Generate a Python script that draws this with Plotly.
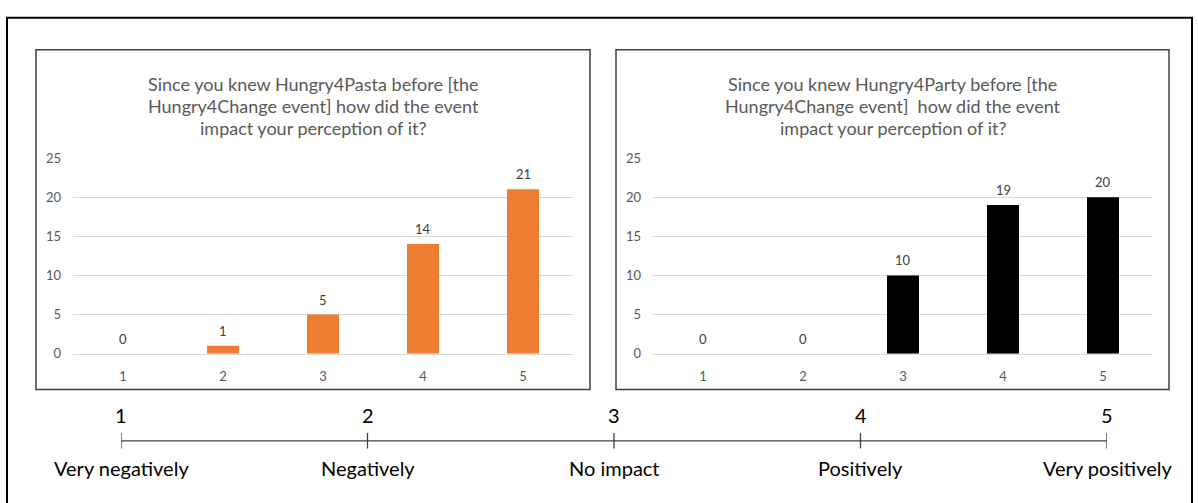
import plotly.graph_objects as go

W, H = 1198, 503

# survey answers (1 = very negatively ... 5 = very positively)
ratings = [1, 2, 3, 4, 5]
pasta_counts = [0, 1, 5, 14, 21]
party_counts = [0, 0, 10, 19, 20]

pasta_title = ["Since you knew Hungry4Pasta before [the",
               "Hungry4Change event] how did the event",
               "impact your perception of it?"]
party_title = ["Since you knew Hungry4Party before [the",
               "Hungry4Change event]  how did the event",
               "impact your perception of it?"]

scale_points = [1, 2, 3, 4, 5]
scale_labels = ["Very negatively", "Negatively", "No impact", "Positively", "Very positively"]

y_ticks = [0, 5, 10, 15, 20, 25]

FONT = "Lato, Calibri, sans-serif"
ORANGE = "#ED7D31"
GRID = "#D9D9D9"
AXIS_TXT = "#595959"


def px_x(p):
    return p / W


def px_y(p):
    return 1 - p / H


fig = go.Figure()

fig.add_trace(go.Bar(x=ratings, y=pasta_counts, width=0.32,
                     marker=dict(color=ORANGE, line=dict(width=0)),
                     xaxis="x", yaxis="y", hoverinfo="skip"))
fig.add_trace(go.Bar(x=ratings, y=party_counts, width=0.32,
                     marker=dict(color="#000000", line=dict(width=0)),
                     xaxis="x2", yaxis="y2", hoverinfo="skip"))

# rating scale across the bottom
fig.add_trace(go.Scatter(x=scale_points, y=[0] * len(scale_points), mode="lines+markers",
                         line=dict(color="#404040", width=1.3),
                         marker=dict(symbol="line-ns-open", size=11,
                                     line=dict(color="#404040", width=1.3)),
                         xaxis="x3", yaxis="y3", hoverinfo="skip"))

plot_top, plot_bottom = 155, 357
y_dom = [px_y(plot_bottom), px_y(plot_top)]

common_x = dict(range=[0.5, 5.5], tickmode="array", tickvals=ratings,
                ticktext=[str(r) for r in ratings], showgrid=False,
                showline=True, linecolor=GRID, linewidth=1, ticks="",
                ticklabelstandoff=11, fixedrange=True,
                tickfont=dict(family=FONT, size=13, color=AXIS_TXT), zeroline=False)
common_y = dict(range=[0, 25], tickmode="array", tickvals=y_ticks,
                showgrid=True, gridcolor=GRID, gridwidth=1, zeroline=False,
                showline=False, ticks="", ticklabelstandoff=11, fixedrange=True,
                tickfont=dict(family=FONT, size=13, color=AXIS_TXT))

fig.update_layout(
    width=W, height=H,
    margin=dict(l=0, r=0, t=0, b=0),
    paper_bgcolor="white", plot_bgcolor="white",
    showlegend=False,
    xaxis=dict(domain=[px_x(73), px_x(573)], anchor="y", **common_x),
    yaxis=dict(domain=y_dom, anchor="x", **common_y),
    xaxis2=dict(domain=[px_x(653), px_x(1153)], anchor="y2", **common_x),
    yaxis2=dict(domain=y_dom, anchor="x2", **common_y),
    xaxis3=dict(domain=[px_x(121), px_x(1107)], anchor="y3", range=[1, 5],
                visible=False, fixedrange=True),
    yaxis3=dict(domain=[px_y(467), px_y(427)], anchor="x3", range=[-1, 1],
                visible=False, fixedrange=True),
)

annotations = []
# value labels above each bar
for xs, ys, xr, yr in [(ratings, pasta_counts, "x", "y"), (ratings, party_counts, "x2", "y2")]:
    for xv, yv in zip(xs, ys):
        annotations.append(dict(x=xv, y=yv, xref=xr, yref=yr, text=str(yv),
                                showarrow=False, yshift=15, yanchor="middle",
                                font=dict(family=FONT, size=13, color="#404040")))

# chart titles, one line each
for cx, lines in [(313, pasta_title), (892.5, party_title)]:
    for ly, txt in zip([78, 101, 124], lines):
        annotations.append(dict(x=px_x(cx), y=px_y(ly), xref="paper", yref="paper",
                                text=txt, showarrow=False, xanchor="center",
                                yanchor="middle",
                                font=dict(family=FONT, size=18, color=AXIS_TXT)))

# scale numbers and wording
for p, lab in zip(scale_points, scale_labels):
    annotations.append(dict(x=p, y=0, xref="x3", yref="y3", text=str(p),
                            showarrow=False, yshift=26, yanchor="middle",
                            font=dict(family=FONT, size=20, color="#000000")))
    annotations.append(dict(x=p, y=0, xref="x3", yref="y3", text=lab,
                            showarrow=False, yshift=-27, yanchor="middle",
                            font=dict(family=FONT, size=20, color="#000000")))
fig.update_layout(annotations=annotations)

# panel frames and outer frame
shapes = [
    dict(type="rect", xref="paper", yref="paper",
         x0=px_x(7), x1=px_x(1192), y0=px_y(560), y1=px_y(10),
         line=dict(color="#000000", width=2), fillcolor="rgba(0,0,0,0)"),
    dict(type="rect", xref="paper", yref="paper",
         x0=px_x(36), x1=px_x(590), y0=px_y(394), y1=px_y(43),
         line=dict(color="#404040", width=1.5), fillcolor="rgba(0,0,0,0)"),
    dict(type="rect", xref="paper", yref="paper",
         x0=px_x(616), x1=px_x(1169), y0=px_y(394), y1=px_y(43),
         line=dict(color="#404040", width=1.5), fillcolor="rgba(0,0,0,0)"),
]
fig.update_layout(shapes=shapes)

fig.write_html("out.html", config={"displayModeBar": False})
